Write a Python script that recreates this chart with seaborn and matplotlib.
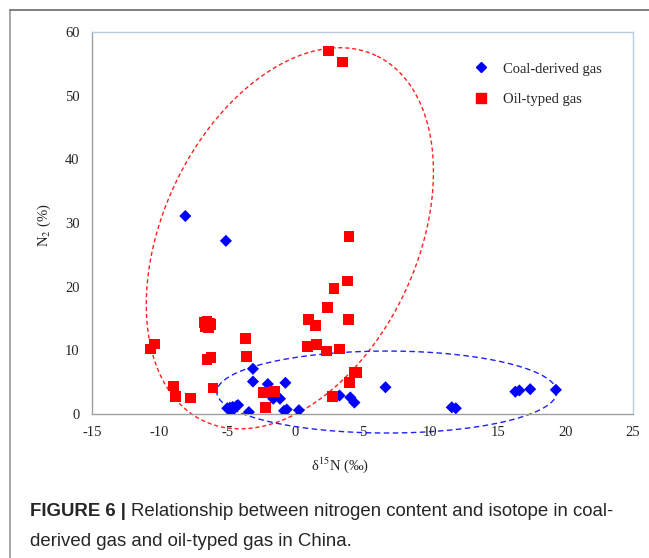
import numpy as np
import pandas as pd
import matplotlib
matplotlib.use("Agg")
import matplotlib.pyplot as plt
from matplotlib.lines import Line2D
import seaborn as sns

# -----------------------------
# DATA
# -----------------------------
coal_x = [-8.1, -5.1, -3.1, -3.1, -2.0, -0.7, -1.6, -1.1, -5.0, -4.8, -4.6, -4.3,
          -4.2, -4.7, -3.4, -0.8, -0.6, 0.3, 3.3, 4.1, 4.4, 6.7, 11.6, 11.9,
          16.3, 16.6, 17.4, 19.3]
coal_y = [31.1, 27.2, 7.1, 5.1, 4.7, 4.9, 2.4, 2.4, 0.9, 1.0, 1.1, 1.3,
          1.4, 0.4, 0.3, 0.5, 0.7, 0.6, 2.9, 2.6, 1.8, 4.2, 1.05, 0.9,
          3.5, 3.7, 3.9, 3.8]

oil_x = [2.5, 3.5, -10.7, -10.4, -9.0, -8.8, -7.7, -6.7, -6.5, -6.3, -6.6, -6.4,
         -6.2, -6.5, -6.2, -6.05, -3.65, -3.55, -2.3, -1.5, -2.15, 4.0, 3.9, 2.9,
         2.4, 1.0, 1.5, 3.95, 0.96, 1.6, 2.35, 3.3, 4.37, 4.6, 4.05, 2.8]
oil_y = [57.0, 55.3, 10.2, 11.0, 4.4, 2.7, 2.5, 14.4, 14.6, 14.2, 13.8, 13.6,
         14.0, 8.6, 8.9, 4.1, 11.8, 9.0, 3.4, 3.5, 1.0, 27.9, 20.9, 19.7,
         16.7, 14.8, 13.9, 14.8, 10.6, 10.9, 9.9, 10.2, 6.5, 6.5, 5.0, 2.7]

groups = ["Coal-derived gas", "Oil-typed gas"]
x_ticks = [-15, -10, -5, 0, 5, 10, 15, 20, 25]
y_ticks = [0, 10, 20, 30, 40, 50, 60]

# -----------------------------
# STYLE
# -----------------------------
sns.set_style("white")
plt.rcParams["font.family"] = ["Liberation Serif", "DejaVu Serif"]
plt.rcParams["mathtext.fontset"] = "stix"
plt.rcParams["axes.unicode_minus"] = False

df = pd.DataFrame({
    "d15N": coal_x + oil_x,
    "N2": coal_y + oil_y,
    "Type": [groups[0]] * len(coal_x) + [groups[1]] * len(oil_x),
})

W, H = 649, 558
fig = plt.figure(figsize=(W / 100, H / 100), dpi=100)
ax = fig.add_axes([92 / W, 1 - 414 / H, (633 - 92) / W, (414 - 32) / H])

xlim, ylim = (x_ticks[0], x_ticks[-1]), (y_ticks[0], y_ticks[-1])
ax.set_xlim(*xlim)
ax.set_ylim(*ylim)

# -----------------------------
# ENCLOSING ELLIPSES (drawn in screen-like space)
# -----------------------------
px_x = (633 - 92) / (xlim[1] - xlim[0])
px_y = (414 - 32) / (ylim[1] - ylim[0])


def draw_ellipse(cx, cy, a, b, angle, color, dashes):
    t = np.linspace(0, 2 * np.pi, 400)
    th = np.deg2rad(angle)
    u = a * np.cos(t) * np.cos(th) - b * np.sin(t) * np.sin(th)
    v = a * np.cos(t) * np.sin(th) + b * np.sin(t) * np.cos(th)
    ax.plot(cx + u / px_x, cy + v / px_y, color=color, lw=1.0,
            linestyle=(0, dashes), clip_on=False, zorder=1)


draw_ellipse(-0.37, 27.6, 202, 127, 64.75, "#ff2020", (3, 2))
draw_ellipse(6.8, 3.45, 170, 41, 0, "#2020ff", (4, 2.5))

# -----------------------------
# SCATTER
# -----------------------------
sns.scatterplot(
    data=df, x="d15N", y="N2", hue="Type", style="Type",
    hue_order=groups, style_order=groups,
    palette={groups[0]: "#0000ff", groups[1]: "#ff0000"},
    markers={groups[0]: "D", groups[1]: "s"},
    s=50, linewidth=0, ax=ax, zorder=3, legend=False,
)
# diamonds a bit smaller than squares
ax.collections[0].set_sizes([38] * len(coal_x) + [60] * len(oil_x))

handles = [
    Line2D([], [], marker="D", color="#0000ff", lw=0, markersize=5),
    Line2D([], [], marker="s", color="#ff0000", lw=0, markersize=7),
]
ax.legend(handles, groups, loc="upper left", bbox_to_anchor=(0.668, 0.955),
          frameon=False, fontsize=10.5, handletextpad=0.5, labelspacing=1.2)

# -----------------------------
# AXES
# -----------------------------
ax.set_xticks(x_ticks)
ax.set_yticks(y_ticks)
ax.tick_params(direction="in", length=3, width=0.8, color="#a0a0a0",
               labelsize=10.5, pad=9)
for side in ["left", "bottom"]:
    ax.spines[side].set_color("#a0a0a0")
for side in ["top", "right"]:
    ax.spines[side].set_color("#b8cce0")
for sp in ax.spines.values():
    sp.set_linewidth(1.0)

ax.set_xlabel(r"δ$^{15}$N (‰)", fontsize=10.5)
ax.set_ylabel(r"N$_2$ (%)", fontsize=10.5)
ax.xaxis.set_label_coords((340 - 92) / 541, -(455 - 414) / 382)
ax.yaxis.set_label_coords(-(92 - 53) / 541, (414 - 225) / 382)

# -----------------------------
# FRAME + CAPTION
# -----------------------------
fig.add_artist(Line2D([9.5 / W, 9.5 / W], [0, 1 - 10 / H],
                      transform=fig.transFigure, color="#9a9a9a", lw=1.2))
fig.add_artist(Line2D([9.5 / W, 1], [1 - 10 / H, 1 - 10 / H],
                      transform=fig.transFigure, color="#6a6a6a", lw=1.2))

cap_font = ["Liberation Sans", "DejaVu Sans"]
cap_size = 13.4
bold = fig.text(30 / W, 1 - 512 / H, "FIGURE 6 |", family=cap_font,
                fontsize=cap_size, fontweight="bold", va="center")
fig.canvas.draw()
bb = bold.get_window_extent().transformed(fig.transFigure.inverted())
fig.text(bb.x1 + 5 / W, 1 - 512 / H,
         "Relationship between nitrogen content and isotope in coal-",
         family=cap_font, fontsize=cap_size, va="center")
fig.text(30 / W, 1 - 541 / H, "derived gas and oil-typed gas in China.",
         family=cap_font, fontsize=cap_size, va="center")

fig.savefig("out.png", dpi=100)
